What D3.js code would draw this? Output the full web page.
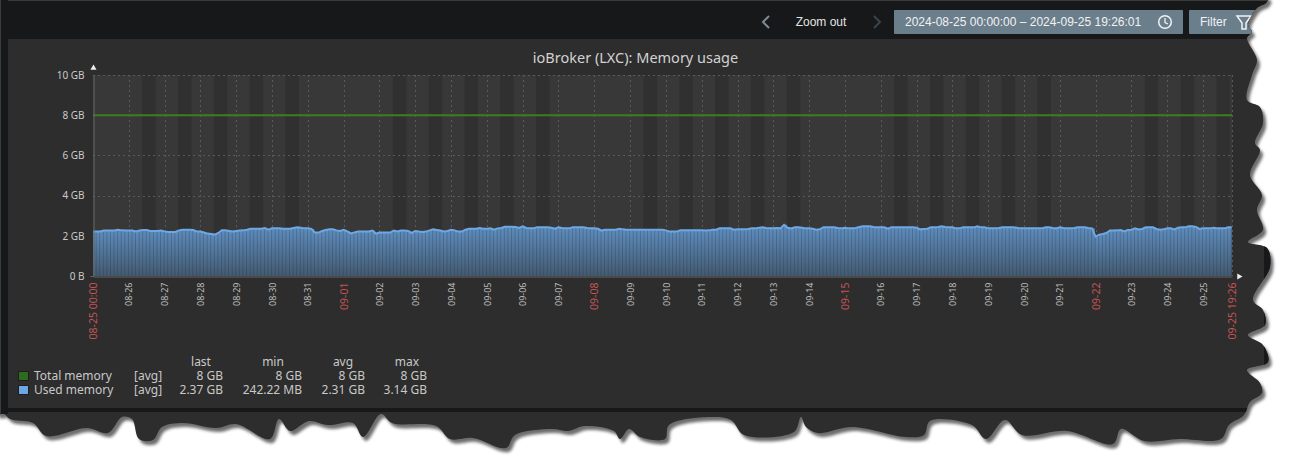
<!DOCTYPE html>
<html>
<head>
<meta charset="utf-8">
<title>ioBroker (LXC): Memory usage</title>
<script src="https://cdn.jsdelivr.net/npm/d3@7"></script>
<style>
  html, body { margin: 0; padding: 0; background: #fff; overflow: hidden; }
  svg { display: block; }
  text { font-family: "Noto Sans", sans-serif; }
  .head text { font-family: "Liberation Sans", sans-serif; font-size: 12px; }
  .axis-y text { font-size: 10px; fill: #cacaca; }
  .legend text { font-size: 12px; fill: #c8c8c8; }
</style>
</head>
<body>
<svg id="chart" width="1291" height="456"></svg>
<script>
// === Data ===
const yTicks = [0, 2, 4, 6, 8, 10];
const yTickLabels = ["0 B", "2 GB", "4 GB", "6 GB", "8 GB", "10 GB"];

const rangeStart = new Date(2024, 7, 25, 0, 0, 0);
const rangeEnd = new Date(2024, 8, 25, 19, 26, 1);
const redDays = ["09-01", "09-08", "09-15", "09-22"];

const totalMemory = [8, 8];

// used memory in GB, one bar every 2.4 hours
const usedMemory = [
  2.21, 2.21, 2.21, 2.26, 2.26, 2.26, 2.26, 2.30, 2.27, 2.26,
  2.26, 2.26, 2.21, 2.26, 2.29, 2.29, 2.24, 2.24, 2.24, 2.26,
  2.22, 2.19, 2.19, 2.19, 2.27, 2.30, 2.30, 2.30, 2.29, 2.21,
  2.21, 2.16, 2.11, 2.09, 2.06, 2.14, 2.27, 2.27, 2.24, 2.21,
  2.24, 2.26, 2.27, 2.30, 2.35, 2.35, 2.35, 2.35, 2.39, 2.30,
  2.37, 2.37, 2.37, 2.35, 2.35, 2.35, 2.39, 2.42, 2.40, 2.37,
  2.37, 2.34, 2.16, 2.16, 2.24, 2.29, 2.32, 2.32, 2.27, 2.24,
  2.30, 2.22, 2.12, 2.17, 2.21, 2.21, 2.21, 2.21, 2.26, 2.11,
  2.16, 2.16, 2.16, 2.16, 2.26, 2.21, 2.26, 2.26, 2.24, 2.14,
  2.24, 2.21, 2.19, 2.21, 2.27, 2.32, 2.29, 2.26, 2.21, 2.24,
  2.30, 2.27, 2.21, 2.21, 2.30, 2.35, 2.35, 2.35, 2.39, 2.35,
  2.35, 2.37, 2.30, 2.37, 2.39, 2.45, 2.45, 2.45, 2.44, 2.39,
  2.47, 2.39, 2.37, 2.37, 2.42, 2.42, 2.42, 2.42, 2.40, 2.35,
  2.42, 2.39, 2.37, 2.37, 2.42, 2.42, 2.42, 2.42, 2.39, 2.37,
  2.37, 2.35, 2.26, 2.30, 2.30, 2.30, 2.30, 2.35, 2.32, 2.30,
  2.30, 2.30, 2.30, 2.30, 2.30, 2.30, 2.30, 2.30, 2.30, 2.30,
  2.27, 2.21, 2.21, 2.21, 2.27, 2.27, 2.27, 2.27, 2.27, 2.27,
  2.27, 2.26, 2.27, 2.30, 2.30, 2.37, 2.37, 2.37, 2.37, 2.30,
  2.32, 2.32, 2.32, 2.34, 2.37, 2.37, 2.40, 2.42, 2.39, 2.37,
  2.37, 2.39, 2.37, 2.55, 2.40, 2.37, 2.42, 2.42, 2.40, 2.37,
  2.37, 2.35, 2.30, 2.32, 2.42, 2.42, 2.42, 2.42, 2.39, 2.37,
  2.40, 2.37, 2.37, 2.39, 2.44, 2.47, 2.47, 2.47, 2.44, 2.42,
  2.42, 2.42, 2.35, 2.42, 2.42, 2.42, 2.42, 2.42, 2.42, 2.42,
  2.40, 2.32, 2.34, 2.35, 2.42, 2.42, 2.44, 2.47, 2.44, 2.42,
  2.42, 2.37, 2.37, 2.42, 2.42, 2.42, 2.42, 2.47, 2.42, 2.42,
  2.37, 2.37, 2.37, 2.39, 2.42, 2.42, 2.42, 2.42, 2.40, 2.37,
  2.37, 2.37, 2.37, 2.37, 2.37, 2.37, 2.42, 2.42, 2.39, 2.37,
  2.42, 2.39, 2.37, 2.37, 2.39, 2.42, 2.42, 2.42, 2.39, 2.37,
  1.96, 2.06, 2.09, 2.14, 2.26, 2.26, 2.27, 2.29, 2.22, 2.29,
  2.30, 2.37, 2.32, 2.34, 2.42, 2.42, 2.42, 2.34, 2.30, 2.32,
  2.37, 2.37, 2.32, 2.40, 2.42, 2.42, 2.47, 2.47, 2.44, 2.34,
  2.37, 2.37, 2.37, 2.40, 2.37, 2.37, 2.37, 2.42, 2.42
];

const legendNames = ["Total memory", "Used memory"];
const legendColors = ["#2f6b1e", "#6ea8e4"];
const legendLast = ["8 GB", "2.37 GB"];
const legendMin = ["8 GB", "242.22 MB"];
const legendAvg = ["8 GB", "2.31 GB"];
const legendMax = ["8 GB", "3.14 GB"];

// Torn paper edge of the screenshot
const tornEdge = [
  [0,-3],[1268,-3],[1266,3],[1257,8],[1248,25],[1252,32],[1247,38],[1257,60],[1252,75],[1247,100],
  [1260,107],[1263,123],[1255,143],[1260,150],[1250,175],[1262,195],[1257,210],[1263,230],[1248,242],
  [1267,248],[1270,267],[1253,300],[1263,310],[1265,325],[1248,335],[1263,345],[1268,362],[1247,370],
  [1260,383],[1262,393],[1250,402],[1244,415],[1229,425],[1221,439],[1179,439],[1144,441],[1121,429],
  [1113,444],[1067,431],[1022,435],[1005,420],[986,439],[972,425],[930,421],[924,435],[906,437],
  [852,427],[818,433],[806,427],[801,417],[794,432],[744,435],[731,420],[710,417],[669,425],[665,439],
  [640,437],[629,429],[620,439],[614,431],[585,426],[568,431],[552,429],[515,435],[506,448],[473,438],
  [450,439],[436,426],[392,423],[381,414],[363,437],[353,423],[328,425],[309,421],[290,431],[279,419],
  [270,439],[236,424],[216,428],[183,423],[162,427],[153,440],[139,439],[132,419],[122,417],[108,433],
  [87,428],[46,436],[33,423],[10,419],[4,414],[-3,414]
];

const svg = d3.select("#chart");
const margin = { top: 75, right: 59, bottom: 180, left: 93 };
const width = +svg.attr("width");
const height = +svg.attr("height");

// === Scales ===
const xScale = d3.scaleTime()
  .domain([rangeStart, rangeEnd])
  .range([margin.left, width - margin.right]);

const yScale = d3.scaleLinear()
  .domain([0, 10])
  .range([height - margin.bottom, margin.top]);

const barStep = 2.4 * 60 * 60 * 1000;
const barTime = i => new Date(+rangeStart + i * barStep);

// === Frame, shadow and torn edge ===
const defs = svg.append("defs");
const edgePath = d3.line().curve(d3.curveCatmullRomClosed.alpha(0.5))(tornEdge);

defs.append("clipPath").attr("id", "torn").append("path").attr("d", edgePath);

const barGradient = defs.append("linearGradient")
  .attr("id", "barFill")
  .attr("x1", 0).attr("x2", 0).attr("y1", 0).attr("y2", 1);
barGradient.append("stop").attr("offset", "0%").attr("stop-color", "#5d8cbd");
barGradient.append("stop").attr("offset", "100%").attr("stop-color", "#435a72");

const gapGradient = defs.append("linearGradient")
  .attr("id", "gapFill")
  .attr("x1", 0).attr("x2", 0).attr("y1", 0).attr("y2", 1);
gapGradient.append("stop").attr("offset", "0%").attr("stop-color", "#4d7299");
gapGradient.append("stop").attr("offset", "100%").attr("stop-color", "#3a4b5c");

svg.append("path")
  .attr("d", edgePath)
  .attr("transform", "translate(3,4)")
  .attr("fill", "#6e6e6e")
  .style("filter", "blur(1.5px)");

const page = svg.append("g").attr("clip-path", "url(#torn)");

page.append("rect").attr("width", width).attr("height", height).attr("fill", "#2d2d2d");
page.append("rect").attr("width", width).attr("height", 39).attr("fill", "#17181a");
page.append("rect").attr("width", width).attr("height", 1).attr("fill", "#3c3c3c");
page.append("rect").attr("width", 8).attr("height", 414).attr("fill", "#17181a");
page.append("rect").attr("width", 1).attr("height", 414).attr("fill", "#3c3c3c");
page.append("rect").attr("x", 8).attr("y", 408).attr("width", width).attr("height", 4).attr("fill", "#17181a");
page.append("rect").attr("x", 1264).attr("y", 39).attr("width", 30).attr("height", 373).attr("fill", "#17181a");

// === Header controls ===
const head = page.append("g").attr("class", "head");

head.append("path").attr("d", "M769,16 L763,22 L769,28")
  .attr("fill", "none").attr("stroke", "#7d8a94").attr("stroke-width", 2);
head.append("text").attr("x", 821).attr("y", 26).attr("text-anchor", "middle")
  .attr("fill", "#e4e4e4").text("Zoom out");
head.append("path").attr("d", "M874,16 L880,22 L874,28")
  .attr("fill", "none").attr("stroke", "#3c444b").attr("stroke-width", 2);

head.append("rect").attr("x", 894).attr("y", 10).attr("width", 289).attr("height", 24)
  .attr("rx", 1).attr("fill", "#6b7e8c");
head.append("text").attr("x", 905).attr("y", 26).attr("fill", "#f2f2f2")
  .text("2024-08-25 00:00:00 – 2024-09-25 19:26:01");
head.append("circle").attr("cx", 1165).attr("cy", 22).attr("r", 6.3)
  .attr("fill", "none").attr("stroke", "#f2f2f2").attr("stroke-width", 1.5);
head.append("path").attr("d", "M1165,18 V22.5 L1168,24")
  .attr("fill", "none").attr("stroke", "#f2f2f2").attr("stroke-width", 1.3);

head.append("rect").attr("x", 1189).attr("y", 10).attr("width", 90).attr("height", 24)
  .attr("rx", 1).attr("fill", "#6b7e8c");
head.append("text").attr("x", 1200).attr("y", 26).attr("fill", "#f2f2f2").text("Filter");
head.append("path").attr("d", "M1237,16 H1251 L1246,23 V29 L1242,29 V23 Z")
  .attr("fill", "none").attr("stroke", "#f2f2f2").attr("stroke-width", 1.5);

// === Plot background ===
page.append("rect")
  .attr("x", xScale.range()[0])
  .attr("y", yScale(10))
  .attr("width", xScale.range()[1] - xScale.range()[0])
  .attr("height", yScale(0) - yScale(10))
  .attr("fill", "#383838");

// Mörkare band, vardagar 09-18
const workDays = d3.timeDays(rangeStart, rangeEnd)
  .filter(d => d.getDay() !== 0 && d.getDay() !== 6);

page.selectAll(".work")
  .data(workDays)
  .enter()
  .append("rect")
  .attr("class", "work")
  .attr("x", d => xScale(d3.timeHour.offset(d, 9)))
  .attr("y", yScale(10))
  .attr("width", d => xScale(d3.timeHour.offset(d, 18)) - xScale(d3.timeHour.offset(d, 9)))
  .attr("height", yScale(0) - yScale(10))
  .attr("fill", "#303030");

// === Grid ===
const dayTicks = d3.timeDays(rangeStart, rangeEnd).slice(1);

page.selectAll(".grid-x")
  .data(dayTicks.concat([rangeEnd]))
  .enter()
  .append("line")
  .attr("class", "grid-x")
  .attr("x1", d => Math.round(xScale(d)) + 0.5)
  .attr("x2", d => Math.round(xScale(d)) + 0.5)
  .attr("y1", yScale(10))
  .attr("y2", yScale(0))
  .attr("stroke", "#5a5a5a")
  .attr("stroke-dasharray", "2,3");

page.selectAll(".grid-y")
  .data(yTicks.slice(1))
  .enter()
  .append("line")
  .attr("class", "grid-y")
  .attr("x1", xScale.range()[0])
  .attr("x2", xScale.range()[1])
  .attr("y1", d => Math.round(yScale(d)) + 0.5)
  .attr("y2", d => Math.round(yScale(d)) + 0.5)
  .attr("stroke", "#5a5a5a")
  .attr("stroke-dasharray", "2,3");

// === Used memory bars ===
const barWidth = xScale(barTime(1)) - xScale(barTime(0));

// darker area under the bars so the gaps stay subtle
page.append("path")
  .datum(usedMemory)
  .attr("d", d3.area()
    .x((d, i) => xScale(barTime(i)))
    .y0(yScale(0))
    .y1(d => yScale(d)))
  .attr("fill", "url(#gapFill)");

page.selectAll(".bar")
  .data(usedMemory)
  .enter()
  .append("rect")
  .attr("class", "bar")
  .attr("x", (d, i) => xScale(barTime(i)))
  .attr("y", d => yScale(d))
  .attr("width", (d, i) => Math.min(barWidth - 0.9, xScale.range()[1] - xScale(barTime(i))))
  .attr("height", d => yScale(0) - yScale(d))
  .attr("fill", "url(#barFill)");

page.append("path")
  .datum(usedMemory)
  .attr("d", d3.line()
    .x((d, i) => xScale(barTime(i)))
    .y(d => yScale(d)))
  .attr("fill", "none")
  .attr("stroke", "#6ea8e4")
  .attr("stroke-width", 2);

// === Total memory line ===
page.append("path")
  .datum(totalMemory)
  .attr("d", d3.line()
    .x((d, i) => xScale(i === 0 ? rangeStart : rangeEnd))
    .y(d => yScale(d)))
  .attr("fill", "none")
  .attr("stroke", "#3f7d22")
  .attr("stroke-width", 2);

// === Axes ===
const yAxis = page.append("g")
  .attr("class", "axis-y")
  .attr("transform", `translate(${margin.left + 0.5},0)`)
  .call(d3.axisLeft(yScale)
    .tickValues(yTicks)
    .tickFormat((d, i) => yTickLabels[i])
    .tickSize(0)
    .tickPadding(9));
yAxis.selectAll("line").attr("stroke", "#666").attr("x2", d => d === 0 ? -3 : 0);
yAxis.select(".domain").attr("stroke", "#666");

const xAxis = page.append("g")
  .attr("class", "axis-x")
  .attr("transform", `translate(0,${yScale(0) + 0.5})`)
  .call(d3.axisBottom(xScale)
    .tickValues([rangeStart].concat(dayTicks, [rangeEnd]))
    .tickFormat(d3.timeFormat("%m-%d"))
    .tickSize(0));
xAxis.select(".domain").attr("stroke", "#666");

// Röda etiketter: start, slut och söndagarna
const isMajor = (d, i, nodes) => i === 0 || i === nodes.length - 1 || redDays.includes(d3.timeFormat("%m-%d")(d));

xAxis.selectAll("text")
  .text((d, i, nodes) => i === 0
    ? "08-25 00:00"
    : i === nodes.length - 1 ? "09-25 19:26" : d3.timeFormat("%m-%d")(d))
  .attr("transform", "rotate(-90)")
  .attr("text-anchor", "end")
  .attr("x", -6)
  .attr("y", 0)
  .attr("dy", "0.35em")
  .style("font-size", (d, i, nodes) => isMajor(d, i, nodes) ? "10.5px" : "9px")
  .style("fill", (d, i, nodes) => isMajor(d, i, nodes) ? "#c45454" : "#bcbcbc");

// Pilar på axlarna
page.append("path")
  .attr("d", d3.symbol(d3.symbolTriangle, 16))
  .attr("transform", `translate(${margin.left + 0.5},${yScale(10) - 7})`)
  .attr("fill", "#eee");
page.append("path")
  .attr("d", d3.symbol(d3.symbolTriangle, 16))
  .attr("transform", `translate(${xScale.range()[1] + 7},${yScale(0) + 0.5}) rotate(90)`)
  .attr("fill", "#eee");

// === Title ===
page.append("text")
  .attr("x", 635.5)
  .attr("y", 63)
  .attr("text-anchor", "middle")
  .attr("font-size", "14.5px")
  .attr("fill", "#d2d2d2")
  .text("ioBroker (LXC): Memory usage");

// === Legend ===
const legend = page.append("g").attr("class", "legend");
const statColumns = [
  { name: "last", center: 201, right: 223, values: legendLast },
  { name: "min", center: 273, right: 302, values: legendMin },
  { name: "avg", center: 343, right: 365, values: legendAvg },
  { name: "max", center: 407, right: 427, values: legendMax }
];
const rowY = d3.scalePoint().domain(legendNames).range([380, 394]);

legend.selectAll(".swatch")
  .data(legendNames)
  .enter()
  .append("rect")
  .attr("class", "swatch")
  .attr("x", 18.5)
  .attr("y", d => rowY(d) - 8.5)
  .attr("width", 10)
  .attr("height", 9)
  .attr("fill", (d, i) => legendColors[i])
  .attr("stroke", "#1f1f1f");

legend.selectAll(".name")
  .data(legendNames)
  .enter()
  .append("text")
  .attr("class", "name")
  .attr("x", 34)
  .attr("y", d => rowY(d))
  .text(d => d);

legend.selectAll(".func")
  .data(legendNames)
  .enter()
  .append("text")
  .attr("class", "func")
  .attr("x", 134)
  .attr("y", d => rowY(d))
  .text("[avg]");

statColumns.forEach(col => {
  legend.append("text")
    .attr("x", col.center)
    .attr("y", 366)
    .attr("text-anchor", "middle")
    .text(col.name);

  legend.selectAll(".val-" + col.name)
    .data(col.values)
    .enter()
    .append("text")
    .attr("class", "val-" + col.name)
    .attr("x", col.right)
    .attr("y", (d, i) => rowY(legendNames[i]))
    .attr("text-anchor", "end")
    .text(d => d);
});
</script>
</body>
</html>
